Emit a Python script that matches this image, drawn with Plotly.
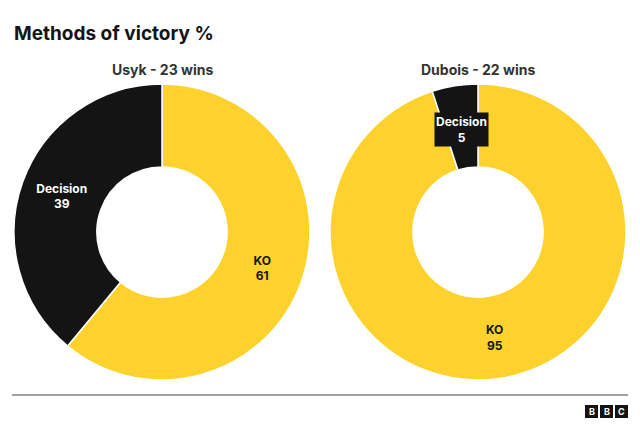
import plotly.graph_objects as go

methods = ["KO", "Decision"]
usyk_pct = [61, 39]
dubois_pct = [95, 5]
titles = ["Usyk - 23 wins", "Dubois - 22 wins"]

# the page puts the figure 8px in from the top-left, so draw it at 624x423
OFF = 8
W, H = 640 - 2 * OFF, 439 - 2 * OFF
YELLOW = "#FDD22C"
BLACK = "#141414"
FONT = "Inter, Noto Sans, sans-serif"


def px_x(v):
    return (v - OFF) / W


def px_y(v):
    return 1 - (v - OFF) / H


fig = go.Figure()
templates = [
    ["<b>%{label}<br>%{value}</b>", "<b>%{label}<br>%{value}</b>"],
    ["<b>%{label}<br>%{value}</b>", ""],
]
for vals, tpl, (x0, x1) in zip([usyk_pct, dubois_pct], templates, [(14, 310), (330, 626)]):
    fig.add_trace(
        go.Pie(
            labels=methods,
            values=vals,
            hole=0.44,
            sort=False,
            direction="clockwise",
            rotation=0,
            marker=dict(colors=[YELLOW, BLACK], line=dict(color="white", width=1.5)),
            texttemplate=tpl,
            textposition="inside",
            insidetextorientation="horizontal",
            textfont=dict(family=FONT, size=12, color=[BLACK, "white"]),
            showlegend=False,
            hoverinfo="skip",
            domain=dict(x=[px_x(x0), px_x(x1)], y=[px_y(380), px_y(84)]),
        )
    )

annotations = [
    dict(text="<b>Methods of victory %</b>", x=px_x(12), y=px_y(34), xanchor="left",
         yanchor="middle", showarrow=False, font=dict(family=FONT, size=19, color=BLACK)),
    dict(text="<b>Decision<br>5</b>", x=px_x(461), y=px_y(130), xanchor="center",
         yanchor="middle", showarrow=False, bgcolor=BLACK, borderpad=1,
         font=dict(family=FONT, size=12, color="white")),
]
for t, cx in zip(titles, [162, 478]):
    annotations.append(dict(text="<b>" + t + "</b>", x=px_x(cx), y=px_y(70), xanchor="center",
                            yanchor="middle", showarrow=False,
                            font=dict(family=FONT, size=14, color="#333333")))

shapes = [dict(type="line", xref="paper", yref="paper", x0=px_x(12), x1=px_x(628),
               y0=px_y(395), y1=px_y(395), line=dict(color="#444444", width=1))]
for i, letter in enumerate("BBC"):
    lx = 585 + i * 15
    shapes.append(dict(type="rect", xref="paper", yref="paper", x0=px_x(lx), x1=px_x(lx + 13),
                       y0=px_y(418), y1=px_y(405), fillcolor=BLACK, line=dict(width=0)))
    annotations.append(dict(text="<b>" + letter + "</b>", x=px_x(lx + 6.5), y=px_y(411.5),
                            xanchor="center", yanchor="middle", showarrow=False,
                            font=dict(family=FONT, size=9, color="white")))

fig.update_layout(
    width=W, height=H, margin=dict(l=0, r=0, t=0, b=0),
    paper_bgcolor="white", plot_bgcolor="white",
    annotations=annotations, shapes=shapes,
)
fig.write_html("out.html")
